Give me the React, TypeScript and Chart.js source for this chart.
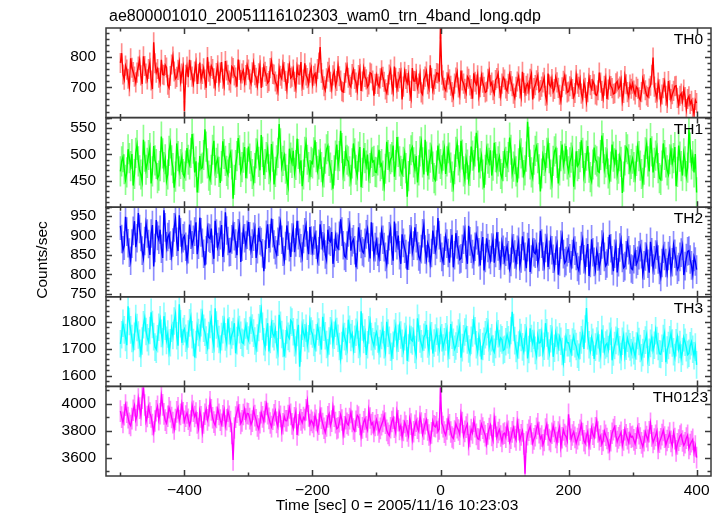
import React, { useEffect, useRef } from "react";
import { Chart, registerables } from "chart.js";

Chart.register(...registerables);

const TITLE = "ae800001010_20051116102303_wam0_trn_4band_long.qdp";
const X_LABEL = "Time [sec] 0 = 2005/11/16 10:23:03";
const Y_LABEL = "Counts/sec";

// time bins (seconds from 2005/11/16 10:23:03)
const T_START = -500;
const T_STEP = 2;

const PANEL_NAMES = ["TH0", "TH1", "TH2", "TH3", "TH0123"];
const PANEL_COLORS = ["#ff0000", "#00ff00", "#0000ff", "#00ffff", "#ff00ff"];
const ERROR_COLORS = ["rgba(255,0,0,0.45)", "rgba(0,255,0,0.45)", "rgba(0,0,255,0.45)", "rgba(0,255,255,0.45)", "rgba(255,0,255,0.45)"];

const TH0 = [
  780,812,742,725,771,758,728,703,795,764,750,735,716,748,768,790,739,711,802,770,745,726,760,781,722,694,848,779,748,760,731,715,790,742,740,773,765,708,698,737,775,801,752,728,734,757,782,719,745,766,
  622,741,768,733,790,756,735,712,752,779,711,744,781,726,744,762,725,698,799,751,738,770,760,729,704,747,772,718,748,783,728,706,786,755,741,722,715,768,763,739,732,702,791,757,724,745,756,716,740,773,
  758,726,712,749,779,740,731,705,746,772,698,733,768,751,737,714,720,763,785,744,742,719,709,688,761,738,728,775,750,721,694,746,772,730,735,758,718,697,766,742,741,783,704,725,779,739,730,711,748,764,
  712,738,745,716,760,781,832,747,725,703,690,729,751,764,718,695,739,752,705,721,770,736,722,687,684,714,748,769,731,708,701,743,758,727,715,690,740,761,688,719,762,734,726,701,709,748,745,722,672,711,
  738,711,702,729,756,734,718,693,681,707,742,758,709,686,768,731,695,718,730,749,660,702,751,727,714,740,688,665,763,721,720,744,698,712,742,683,676,726,735,752,710,695,772,730,690,709,727,747,745,718,
  893,741,722,698,690,716,741,726,705,684,668,712,732,749,699,676,755,722,712,695,681,735,728,706,694,662,746,718,709,739,672,700,738,715,701,683,686,728,752,707,715,690,678,724,730,745,697,671,712,733,
  725,696,688,711,742,720,703,679,665,701,719,736,696,670,751,714,682,705,712,689,728,744,660,697,707,723,738,686,691,702,716,731,672,655,745,709,702,727,685,694,733,716,698,675,655,700,721,738,709,683,
  686,703,722,694,668,681,740,712,701,725,679,662,715,698,652,684,731,707,694,721,710,676,673,690,748,715,688,664,705,729,661,692,726,704,697,678,680,713,719,696,702,723,655,681,737,710,684,668,709,695,
  712,689,676,701,695,667,658,684,728,710,690,673,668,696,705,741,798,702,682,664,715,693,650,676,697,718,672,648,720,690,661,677,688,703,705,665,643,672,679,654,692,668,628,661,670,645,655,632,612,658,
  648,
];

const TH1 = [
  468,487,495,472,452,466,510,493,478,501,441,463,503,518,487,470,462,449,528,496,471,484,499,512,445,468,516,489,482,455,460,478,534,502,476,491,450,462,507,521,489,474,437,458,521,497,468,482,495,463,
  458,479,512,490,481,503,539,511,466,487,428,456,497,473,475,499,548,515,483,460,452,471,509,526,470,484,492,467,446,478,525,501,488,469,462,493,503,481,416,452,480,497,531,508,467,476,494,514,455,483,
  515,492,478,463,449,474,502,519,486,470,537,505,461,482,495,511,472,458,520,496,443,467,489,503,558,521,476,488,498,473,452,439,511,494,484,507,465,480,530,501,473,489,440,462,505,522,490,476,461,486,
  483,504,527,495,469,481,501,476,448,466,492,510,516,488,475,461,435,470,498,519,480,497,545,512,463,478,507,490,487,468,452,483,521,502,471,459,496,514,438,465,512,493,479,500,458,474,503,486,488,467,
  466,489,509,478,482,460,441,473,524,499,476,491,495,517,458,480,533,505,487,469,463,486,502,474,420,459,491,508,514,485,472,497,447,470,506,523,485,462,528,496,460,481,494,510,477,455,451,479,517,492,
  482,470,498,511,463,487,512,494,475,458,440,472,505,520,489,476,526,500,468,453,493,481,451,469,515,498,480,506,541,517,466,483,497,462,437,471,509,492,484,508,460,479,522,495,473,487,496,463,455,478,
  503,486,478,495,532,509,464,477,491,468,447,483,518,502,485,461,470,496,562,524,481,466,456,490,507,515,493,472,430,464,499,488,474,503,521,493,462,447,488,506,511,484,445,470,497,519,479,492,516,481,
  468,485,494,507,439,462,506,478,482,495,527,503,459,474,498,516,475,457,449,481,513,490,487,468,466,499,536,512,472,485,501,464,452,477,519,496,483,509,461,473,497,486,427,458,489,514,510,491,470,482,
  492,476,458,488,515,497,479,463,446,471,504,520,487,468,531,506,466,484,498,512,474,455,452,479,521,499,485,470,462,491,509,483,493,514,440,467,517,496,478,460,502,487,459,475,548,513,481,497,466,501,
  428,
];

const TH2 = [
  925,891,862,874,948,910,880,856,835,879,912,937,870,893,958,917,896,861,842,886,930,905,878,850,905,927,820,868,940,899,889,915,866,842,965,921,872,896,903,874,848,882,921,943,884,860,952,908,868,893,
  899,871,838,865,928,902,875,889,910,934,852,876,946,908,881,853,823,862,917,895,892,918,863,840,938,905,870,884,901,927,845,868,960,913,886,857,858,890,924,898,879,849,906,925,832,871,915,893,874,902,
  935,898,861,879,897,916,842,865,920,887,883,854,808,851,902,929,868,893,944,906,877,862,851,884,912,933,889,858,836,873,926,900,870,845,895,917,857,882,938,901,881,867,846,891,908,926,874,852,922,887,
  860,887,903,876,838,859,929,901,872,893,851,837,915,888,884,909,827,855,897,871,866,899,942,910,875,847,843,874,908,926,861,883,890,862,818,850,921,895,878,859,855,881,903,917,869,841,934,896,848,870,
  887,858,842,871,912,889,870,845,826,863,898,917,861,835,936,894,875,900,849,827,903,881,866,852,812,848,890,911,857,874,921,893,873,846,838,865,906,927,864,839,880,868,829,855,913,889,860,877,945,901,
  868,845,832,861,897,879,855,830,880,902,818,849,906,877,862,838,841,866,889,911,850,827,925,885,866,852,835,871,901,887,857,823,874,896,810,842,893,868,852,837,869,890,830,855,908,872,848,826,882,863,
  836,858,872,849,815,832,889,867,851,826,863,884,822,841,898,873,845,816,870,893,806,838,880,857,853,871,828,845,912,879,846,824,868,889,819,850,887,862,840,818,861,877,799,833,876,898,852,829,834,857,
  866,841,823,852,884,861,847,819,810,836,873,890,839,814,856,878,796,829,890,857,832,811,861,846,818,835,877,896,845,822,828,859,902,867,836,808,853,874,805,831,869,888,842,817,821,849,881,862,838,815,
  812,839,858,826,835,849,870,852,801,823,846,868,827,804,884,857,815,836,851,874,838,811,793,829,866,847,829,805,847,862,808,831,875,853,834,812,819,845,856,873,798,821,842,859,861,838,823,800,845,833,
  812,
];

const TH3 = [
  1718,1752,1795,1770,1742,1713,1858,1801,1770,1738,1705,1746,1812,1779,1751,1720,1683,1729,1789,1815,1764,1741,1726,1768,1835,1790,1745,1706,1698,1737,1780,1808,1757,1726,1821,1784,1731,1755,1690,1722,1776,1749,1803,1829,1748,1711,1865,1793,1722,1764,
  1774,1739,1712,1755,1796,1818,1752,1723,1668,1716,1783,1760,1740,1797,1829,1776,1761,1732,1706,1749,1790,1812,1735,1708,1850,1788,1756,1734,1699,1745,1771,1802,1744,1719,1812,1767,1727,1751,1764,1795,1683,1730,1798,1771,1750,1724,1720,1762,1788,1747,
  1732,1768,1806,1777,1758,1729,1701,1740,1779,1811,1845,1783,1726,1705,1762,1795,1690,1734,1791,1756,1745,1772,1715,1689,1826,1787,1753,1720,1671,1718,1770,1746,1738,1806,1799,1763,1722,1695,1760,1789,1633,1702,1784,1758,1741,1776,1712,1737,1802,1766,
  1755,1723,1702,1741,1784,1762,1730,1697,1819,1780,1748,1716,1685,1729,1767,1793,1721,1750,1795,1764,1739,1708,1664,1712,1776,1745,1727,1701,1808,1772,1742,1756,1698,1735,1761,1788,1716,1690,1839,1781,1734,1758,1677,1715,1770,1801,1745,1726,1711,1747,
  1762,1736,1693,1719,1749,1771,1715,1688,1800,1758,1731,1706,1672,1713,1757,1782,1708,1739,1784,1751,1720,1694,1745,1769,1655,1703,1768,1734,1729,1760,1697,1676,1813,1777,1736,1718,1701,1743,1752,1789,1718,1692,1779,1748,1682,1721,1740,1765,1725,1700,
  1768,1741,1703,1726,1744,1770,1681,1712,1792,1750,1724,1698,1710,1735,1758,1781,1667,1704,1737,1762,1776,1733,1699,1684,1731,1759,1805,1767,1715,1689,1746,1722,1660,1708,1728,1752,1763,1790,1706,1727,1741,1699,1687,1716,1784,1756,1719,1740,1733,1694,
  1698,1726,1752,1733,1713,1768,1837,1779,1730,1701,1675,1714,1760,1742,1707,1689,1741,1766,1664,1697,1776,1738,1719,1750,1694,1673,1748,1721,1723,1757,1685,1709,1795,1759,1710,1684,1737,1764,1670,1702,1758,1731,1705,1744,1728,1690,1650,1698,1744,1722,
  1722,1701,1684,1725,1746,1719,1708,1680,1668,1712,1733,1757,1699,1773,1851,1748,1715,1691,1742,1724,1662,1706,1729,1752,1703,1678,1771,1736,1690,1714,1720,1697,1746,1765,1657,1688,1712,1731,1763,1726,1696,1671,1728,1750,1675,1709,1739,1719,1707,1685,
  1715,1693,1672,1710,1749,1727,1701,1666,1686,1718,1732,1753,1660,1687,1720,1741,1694,1713,1767,1730,1708,1681,1679,1702,1738,1759,1650,1695,1712,1733,1756,1721,1689,1667,1722,1745,1697,1716,1665,1690,1741,1724,1704,1678,1683,1711,1726,1698,1674,1706,
  1640,
];

const TH0123 = [
  3945,3901,3862,3918,3990,3937,3897,3854,3838,3889,3952,3986,3880,3913,4035,3968,3915,4042,4120,3991,3868,3905,3975,3930,3902,3846,3790,3872,3948,3980,3882,3926,4060,3992,3925,3878,3856,3907,3970,3941,3898,3860,3812,3883,3940,3969,3875,3921,3998,3932,
  3870,3908,3932,3885,3841,3872,3986,3944,3905,3931,3858,3816,3948,3903,3789,3857,3922,3958,3880,3912,4015,3954,3896,3863,3842,3899,3960,3921,3878,3847,3910,3952,3835,3881,3945,3906,3868,3779,3582,3820,3901,3938,3976,3917,3854,3873,3920,3959,3887,3928,
  3925,3889,3846,3871,3958,3912,3880,3836,3812,3860,3934,3902,3868,3941,3995,3927,3891,3857,3830,3885,3917,3948,3862,3829,3940,3906,3798,3851,3905,3874,3873,3913,3969,3921,3850,3817,3896,3938,3768,3843,3921,3880,3858,3897,3882,3955,4020,3910,3845,3876,
  3862,3831,3914,3876,3805,3849,3946,3893,3852,3818,3787,3836,3902,3925,3838,3871,3975,3907,3860,3814,3822,3866,3918,3879,3773,3828,3889,3854,3843,3890,3935,3869,3812,3797,3870,3913,3901,3846,3760,3821,3865,3887,3828,3803,3952,3894,3846,3859,3795,3838,
  3881,3843,3790,3817,3845,3869,3912,3856,3802,3780,3764,3822,3868,3893,3825,3786,3937,3874,3810,3838,3752,3801,3862,3835,3798,3761,3890,3849,3735,3792,3840,3871,3818,3795,3905,3857,3773,3812,3851,3880,3806,3768,3720,3784,3872,3836,3829,3858,3794,3812,
  4118,3857,3830,3789,3768,3812,3885,3844,3790,3753,3742,3797,3851,3822,3805,3774,3920,3861,3761,3795,3826,3848,3695,3757,3808,3783,3870,3829,3772,3740,3736,3801,3848,3819,3790,3763,3702,3776,3815,3842,3764,3728,3892,3831,3751,3786,3808,3760,3720,3775,
  3782,3751,3840,3796,3715,3744,3791,3822,3756,3731,3865,3808,3732,3769,3798,3702,3480,3716,3770,3803,3828,3776,3708,3739,3762,3817,3850,3785,3741,3760,3695,3728,3811,3847,3768,3733,3720,3781,3832,3794,3749,3712,3790,3826,3682,3747,3805,3771,3758,3724,
  3921,3812,3736,3768,3792,3750,3708,3741,3770,3803,3845,3779,3725,3706,3762,3793,3690,3738,3818,3774,3751,3822,3872,3790,3733,3759,3700,3727,3795,3766,3742,3710,3660,3725,3781,3808,3829,3761,3718,3746,3764,3787,3690,3732,3808,3769,3740,3711,3777,3752,
  3758,3731,3702,3744,3820,3777,3745,3709,3681,3726,3790,3756,3728,3792,3855,3761,3712,3738,3765,3797,3668,3715,3740,3770,3802,3752,3695,3727,3751,3783,3720,3688,3786,3741,3650,3702,3730,3759,3772,3723,3691,3710,3745,3766,3668,3697,3718,3735,3640,3686,
  3600,
];

const SERIES = [TH0, TH1, TH2, TH3, TH0123];
// half-length of the 1-sigma error bars in each panel (counts/sec)
const ERRORS = [32, 28, 36, 50, 78];

// axis ranges and tick labels
const X_MIN = -522.5;
const X_MAX = 422.5;
const X_TICKS = [-400, -200, 0, 200, 400];
const TH0_TICKS = [700, 800];
const TH1_TICKS = [450, 500, 550];
const TH2_TICKS = [750, 800, 850, 900, 950];
const TH3_TICKS = [1600, 1700, 1800];
const TH0123_TICKS = [3600, 3800, 4000];
const Y_TICKS = [TH0_TICKS, TH1_TICKS, TH2_TICKS, TH3_TICKS, TH0123_TICKS];
const Y_MIN = [600, 400, 742, 1560, 3463];
const Y_MAX = [895, 570, 973, 1893, 4129];
const Y_MAJOR = [100, 50, 50, 100, 200];
const Y_MINOR = [20, 10, 10, 20, 100];

const FONT = "'Liberation Sans', Arial, Helvetica, sans-serif";
const FRAME = "#3a3a3a";

const fmt = (v: number) => (v < 0 ? "\u2212" + String(-v) : String(v));

const qdpPlugin = {
  id: "qdpFrame",
  beforeDatasetDraw(chart: any, args: any) {
    const ys = chart.scales[args.meta.yAxisID];
    const ctx = chart.ctx as CanvasRenderingContext2D;
    ctx.save();
    ctx.beginPath();
    ctx.rect(chart.chartArea.left, ys.top, chart.chartArea.right - chart.chartArea.left, ys.bottom - ys.top);
    ctx.clip();
  },
  afterDatasetDraw(chart: any) {
    chart.ctx.restore();
  },
  afterDraw(chart: any) {
    const ctx = chart.ctx as CanvasRenderingContext2D;
    const xs = chart.scales.x;
    const left = chart.chartArea.left;
    const right = chart.chartArea.right;
    ctx.save();
    ctx.strokeStyle = FRAME;
    ctx.lineWidth = 1.5;
    PANEL_NAMES.forEach((name, k) => {
      const ys = chart.scales["y" + k];
      const top = ys.top;
      const bottom = ys.bottom;
      ctx.strokeRect(left, top, right - left, bottom - top);
      ctx.beginPath();
      const minor = Y_MINOR[k];
      const major = Y_MAJOR[k];
      for (let v = Math.ceil(ys.min / minor) * minor; v <= ys.max; v += minor) {
        const y = Math.round(ys.getPixelForValue(v)) + 0.5;
        const isMajor = Math.abs(v / major - Math.round(v / major)) < 1e-6;
        const len = isMajor ? 6 : 3.5;
        ctx.moveTo(left, y);
        ctx.lineTo(left + len, y);
        ctx.moveTo(right, y);
        ctx.lineTo(right - len, y);
      }
      for (let v = -500; v <= 400; v += 100) {
        const x = Math.round(xs.getPixelForValue(v)) + 0.5;
        const isMajor = v % 200 === 0;
        const len = isMajor ? 6 : 3.5;
        ctx.moveTo(x, top);
        ctx.lineTo(x, top + len);
        ctx.moveTo(x, bottom);
        ctx.lineTo(x, bottom - len);
      }
      ctx.stroke();
      ctx.fillStyle = "#000";
      ctx.font = `15.5px ${FONT}`;
      ctx.textAlign = "right";
      ctx.textBaseline = "alphabetic";
      ctx.fillText(name, k === 4 ? 708 : 703, top + 16);
    });
    ctx.fillStyle = "#000";
    ctx.font = `16px ${FONT}`;
    ctx.textAlign = "left";
    ctx.textBaseline = "alphabetic";
    ctx.fillText(TITLE, 109, 21);
    ctx.font = `15.5px ${FONT}`;
    ctx.textAlign = "center";
    ctx.fillText(X_LABEL, 397, 509.5);
    ctx.translate(46.5, 260);
    ctx.rotate(-Math.PI / 2);
    ctx.fillText(Y_LABEL, 0, 0);
    ctx.restore();
  },
};

export default function App() {
  const ref = useRef<HTMLCanvasElement | null>(null);

  useEffect(() => {
    const canvas = ref.current;
    if (!canvas) return;
    const scales: any = {
      x: {
        type: "linear",
        position: "bottom",
        offset: false,
        min: X_MIN,
        max: X_MAX,
        afterBuildTicks: (s: any) => {
          s.ticks = X_TICKS.map((v) => ({ value: v }));
        },
        afterFit: (s: any) => {
          s.height = 40;
        },
        grid: { display: false, drawTicks: false, offset: false },
        border: { display: false },
        ticks: {
          color: "#000",
          padding: 5,
          maxRotation: 0,
          autoSkip: false,
          font: { family: FONT, size: 15.5 },
          callback: (v: number) => fmt(v),
        },
      },
    };
    PANEL_NAMES.forEach((name, k) => {
      scales["y" + k] = {
        type: "linear",
        position: "left",
        stack: "panels",
        stackWeight: 1,
        weight: 5 - k,
        beginAtZero: false,
        min: Y_MIN[k],
        max: Y_MAX[k],
        afterBuildTicks: (s: any) => {
          s.ticks = Y_TICKS[k].map((v) => ({ value: v }));
        },
        afterFit: (s: any) => {
          s.width = 106;
        },
        grid: { display: false, drawTicks: false },
        border: { display: false },
        ticks: {
          color: "#000",
          padding: 10,
          autoSkip: false,
          font: { family: FONT, size: 15.5 },
          callback: (v: number) => fmt(v),
        },
      };
    });
    const lines = SERIES.map((vals, k) => ({
      type: "line",
      label: PANEL_NAMES[k],
      data: vals.map((v, i) => ({ x: T_START + i * T_STEP, y: v })),
      borderColor: PANEL_COLORS[k],
      backgroundColor: PANEL_COLORS[k],
      borderWidth: 1.4,
      pointRadius: 0,
      tension: 0,
      fill: false,
      order: 0,
      yAxisID: "y" + k,
      xAxisID: "x",
    }));
    const errorBars = SERIES.map((vals, k) => ({
      type: "bar",
      label: PANEL_NAMES[k] + " error",
      data: vals.map((v, i) => ({ x: T_START + i * T_STEP, y: [v - ERRORS[k], v + ERRORS[k]] })),
      backgroundColor: ERROR_COLORS[k],
      borderWidth: 0,
      barThickness: 1,
      grouped: false,
      order: 1,
      yAxisID: "y" + k,
      xAxisID: "x",
    }));
    const chart = new Chart(canvas, {
      type: "line",
      data: { datasets: [...errorBars, ...lines] },
      options: {
        animation: false,
        responsive: false,
        maintainAspectRatio: false,
        devicePixelRatio: 1,
        events: [],
        layout: { padding: { top: 28, right: 13, bottom: 0, left: 0 } },
        plugins: {
          legend: { display: false },
          title: { display: false },
          tooltip: { enabled: false },
        },
        scales,
      },
      plugins: [qdpPlugin],
    } as any);
    return () => chart.destroy();
  }, []);

  return (
    <div style={{ position: "fixed", left: 0, top: 0, width: 724, height: 516, background: "#fff" }}>
      <canvas ref={ref} width={724} height={516} style={{ display: "block", width: 724, height: 516 }} />
    </div>
  );
}
